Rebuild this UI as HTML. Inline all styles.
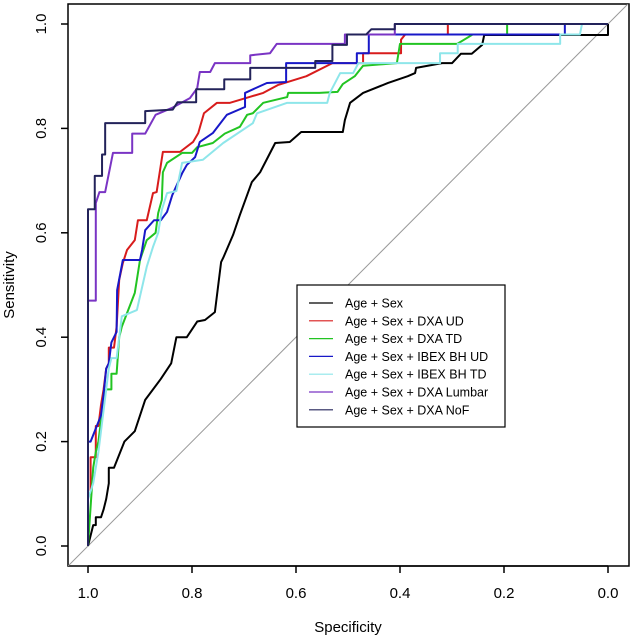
<!DOCTYPE html>
<html><head><meta charset="utf-8"><style>
body{margin:0;background:#fff;}
svg{display:block;font-family:"Liberation Sans",Arial,sans-serif;}
</style></head><body>
<svg id="chart" width="633" height="637">
<defs><clipPath id="pc"><rect x="68" y="4" width="561" height="562"/></clipPath></defs>
<rect x="68" y="4" width="561" height="562" fill="none" stroke="#000" stroke-width="1.5"/>
<g id="axes"></g>
<g id="series" clip-path="url(#pc)"></g>
<text x="348" y="632" text-anchor="middle" font-size="15">Specificity</text>
<text transform="translate(14,285) rotate(-90)" text-anchor="middle" font-size="15">Sensitivity</text>
<g>
<rect x="297" y="285" width="208" height="142" fill="#fff" stroke="#000" stroke-width="1.2"/>
<g id="legend"></g>
</g>
</svg>
<script>
const xTicks=[1.0,0.8,0.6,0.4,0.2,0.0];
const yTicks=[0.0,0.2,0.4,0.6,0.8,1.0];
const seriesNames=["Age + Sex","Age + Sex + DXA UD","Age + Sex + DXA TD","Age + Sex + IBEX BH UD","Age + Sex + IBEX BH TD","Age + Sex + DXA Lumbar","Age + Sex + DXA NoF"];
const seriesColors=["#000000","#d81c1c","#22c422","#1818c8","#8ee6ea","#7a34c4","#23235a"];
const ageSex=[[1,0],[0.99,0.04],[0.985,0.04],[0.985,0.055],[0.975,0.055],[0.97,0.07],[0.965,0.09],[0.96,0.12],[0.96,0.15],[0.95,0.15],[0.93,0.2],[0.91,0.22],[0.89,0.28],[0.86,0.32],[0.84,0.35],[0.83,0.4],[0.81,0.4],[0.79,0.43],[0.775,0.433],[0.756,0.448],[0.744,0.544],[0.74,0.552],[0.721,0.596],[0.708,0.634],[0.685,0.697],[0.669,0.716],[0.64,0.772],[0.612,0.774],[0.59,0.793],[0.51,0.793],[0.506,0.816],[0.496,0.849],[0.471,0.868],[0.423,0.887],[0.385,0.9],[0.371,0.906],[0.369,0.916],[0.319,0.925],[0.3,0.925],[0.283,0.943],[0.262,0.943],[0.242,0.96],[0.238,0.979],[0.0,0.979],[0.0,1.0]];
const dxaUD=[[1,0],[1,0.1],[0.995,0.1],[0.995,0.17],[0.985,0.17],[0.985,0.23],[0.98,0.23],[0.975,0.27],[0.97,0.3],[0.965,0.34],[0.96,0.35],[0.96,0.38],[0.95,0.38],[0.945,0.42],[0.94,0.51],[0.933,0.542],[0.925,0.567],[0.91,0.586],[0.904,0.624],[0.887,0.624],[0.875,0.676],[0.868,0.678],[0.856,0.755],[0.823,0.755],[0.798,0.774],[0.788,0.791],[0.777,0.829],[0.752,0.849],[0.727,0.849],[0.69,0.86],[0.663,0.868],[0.635,0.883],[0.58,0.9],[0.54,0.92],[0.53,0.925],[0.471,0.925],[0.471,0.944],[0.398,0.944],[0.398,0.97],[0.39,0.98],[0.308,0.98],[0.308,1],[0,1]];
const dxaTD=[[1,0],[0.99,0.15],[0.985,0.18],[0.98,0.2],[0.975,0.24],[0.97,0.28],[0.965,0.3],[0.955,0.3],[0.955,0.33],[0.945,0.33],[0.94,0.4],[0.935,0.42],[0.91,0.485],[0.906,0.51],[0.9,0.548],[0.887,0.586],[0.87,0.6],[0.865,0.638],[0.858,0.663],[0.856,0.716],[0.848,0.734],[0.819,0.753],[0.8,0.753],[0.79,0.764],[0.76,0.772],[0.737,0.79],[0.708,0.803],[0.694,0.826],[0.683,0.829],[0.663,0.849],[0.617,0.86],[0.615,0.868],[0.555,0.868],[0.52,0.87],[0.51,0.885],[0.487,0.9],[0.471,0.92],[0.406,0.925],[0.4,0.962],[0.29,0.962],[0.26,0.98],[0.194,0.98],[0.194,1],[0,1]];
const ibexUD=[[1,0],[1,0.2],[0.995,0.2],[0.985,0.225],[0.975,0.25],[0.97,0.29],[0.965,0.34],[0.96,0.35],[0.955,0.39],[0.945,0.41],[0.944,0.49],[0.933,0.548],[0.9,0.548],[0.896,0.567],[0.89,0.605],[0.873,0.624],[0.86,0.624],[0.848,0.64],[0.838,0.672],[0.819,0.714],[0.81,0.73],[0.794,0.745],[0.785,0.774],[0.76,0.791],[0.733,0.826],[0.698,0.841],[0.698,0.868],[0.656,0.887],[0.619,0.889],[0.619,0.925],[0.483,0.925],[0.483,0.944],[0.46,0.944],[0.46,0.98],[0.083,0.98],[0.083,1],[0,1]];
const ibexTD=[[1,0],[1,0.09],[0.99,0.12],[0.98,0.18],[0.975,0.22],[0.97,0.26],[0.965,0.3],[0.96,0.34],[0.955,0.36],[0.945,0.36],[0.94,0.4],[0.935,0.44],[0.906,0.452],[0.887,0.535],[0.875,0.573],[0.865,0.6],[0.858,0.644],[0.848,0.676],[0.83,0.68],[0.819,0.734],[0.779,0.74],[0.74,0.772],[0.683,0.81],[0.675,0.829],[0.617,0.849],[0.54,0.849],[0.535,0.868],[0.515,0.906],[0.49,0.906],[0.48,0.925],[0.323,0.925],[0.323,0.944],[0.289,0.944],[0.289,0.962],[0.092,0.962],[0.092,0.98],[0.054,0.98],[0.05,1],[0,1]];
const lumbar=[[1,0],[1,0.47],[0.985,0.47],[0.985,0.657],[0.978,0.678],[0.967,0.678],[0.952,0.753],[0.915,0.753],[0.915,0.79],[0.89,0.79],[0.87,0.826],[0.837,0.84],[0.804,0.858],[0.79,0.877],[0.785,0.908],[0.765,0.908],[0.756,0.925],[0.688,0.925],[0.688,0.94],[0.65,0.944],[0.637,0.962],[0.506,0.962],[0.506,0.98],[0.41,0.98],[0.41,1],[0,1]];
const nof=[[1,0],[1,0.645],[0.987,0.645],[0.987,0.709],[0.973,0.709],[0.973,0.75],[0.967,0.75],[0.967,0.81],[0.89,0.81],[0.89,0.833],[0.837,0.836],[0.828,0.85],[0.792,0.85],[0.792,0.875],[0.738,0.875],[0.738,0.894],[0.688,0.894],[0.688,0.916],[0.563,0.916],[0.563,0.929],[0.53,0.929],[0.53,0.96],[0.502,0.96],[0.502,0.98],[0.465,0.98],[0.455,0.99],[0.41,0.99],[0.41,1],[0,1]];
const allSeries=[ageSex,dxaUD,dxaTD,ibexUD,ibexTD,lumbar,nof];
const seriesKeys=["age-sex","dxa-ud","dxa-td","ibex-bh-ud","ibex-bh-td","dxa-lumbar","dxa-nof"];

function xs(s){return 88+(1-s)*520;}
function ys(v){return 546-v*522;}
const NS="http://www.w3.org/2000/svg";
function mk(t,a){const e=document.createElementNS(NS,t);for(const k in a)e.setAttribute(k,a[k]);return e;}
const axes=document.getElementById('axes');
const ser=document.getElementById('series');
const leg=document.getElementById('legend');

// x axis
const xl=mk('line',{x1:xs(xTicks[0]),x2:xs(xTicks[xTicks.length-1]),y1:566,y2:566,stroke:'#000','stroke-width':1.5});


axes.appendChild(xl);
xTicks.forEach(t=>{
  const l=mk('line',{x1:xs(t),x2:xs(t),y1:566,y2:573,stroke:'#000','stroke-width':1.5});
  
  
  axes.appendChild(l);
  const tx=mk('text',{x:xs(t),y:598,'text-anchor':'middle','font-size':15});
  tx.textContent=t.toFixed(1);
  
  
  axes.appendChild(tx);
});
yTicks.forEach(t=>{
  const l=mk('line',{x1:61,x2:68,y1:ys(t),y2:ys(t),stroke:'#000','stroke-width':1.5});
  
  
  axes.appendChild(l);
  const tx=mk('text',{transform:`translate(46,${ys(t)}) rotate(-90)`,'text-anchor':'middle','font-size':15});
  tx.textContent=t.toFixed(1);
  
  
  axes.appendChild(tx);
});
// diagonal reference
const dg=mk('line',{x1:xs(1.1),y1:ys(-0.1),x2:xs(-0.1),y2:ys(1.1),stroke:'#999','stroke-width':1});


ser.appendChild(dg);

allSeries.forEach((pts,i)=>{
  const p=mk('polyline',{points:pts.map(q=>xs(q[0])+','+ys(q[1])).join(' '),fill:'none',stroke:seriesColors[i],'stroke-width':2,'stroke-linejoin':'round'});
  
  
  ser.appendChild(p);
  const yy=303+i*17.8;
  const ll=mk('line',{x1:309,x2:333,y1:yy,y2:yy,stroke:seriesColors[i],'stroke-width':1.2});
  
  
  leg.appendChild(ll);
  const lt=mk('text',{x:345,y:yy+4.5,'font-size':12.5});
  lt.textContent=seriesNames[i];
  
  
  leg.appendChild(lt);
});
</script>
</body></html>
